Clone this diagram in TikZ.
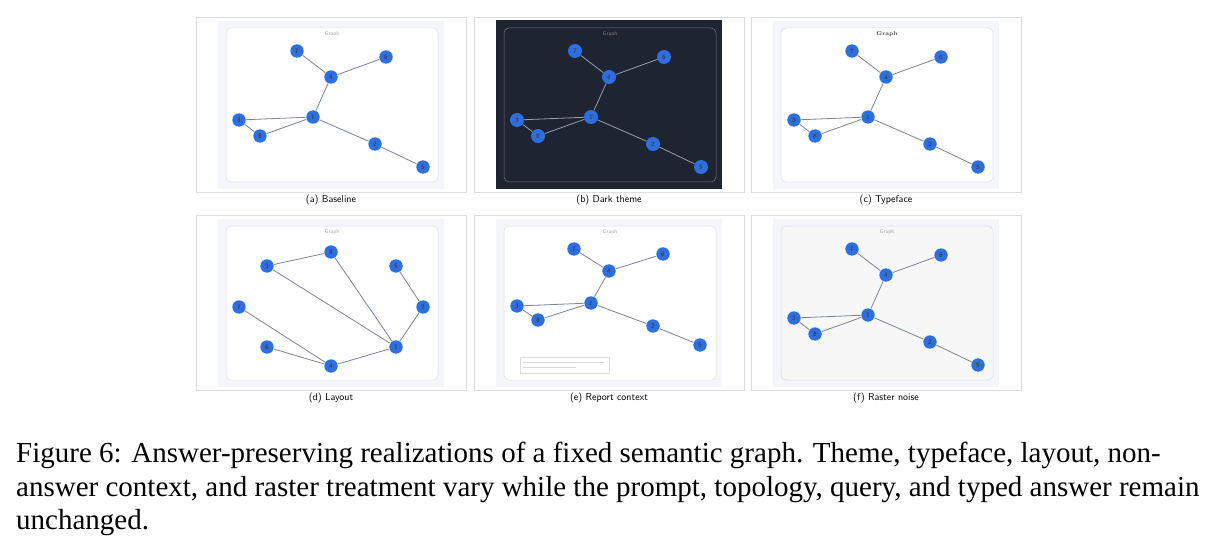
\documentclass[tikz,border=0pt]{standalone}
\usepackage{fontspec}
\newfontfamily\capfont{Liberation Serif}
\usetikzlibrary{positioning}
\definecolor{nodeblue}{HTML}{2C6FE2}
\definecolor{edgegray}{HTML}{7D8496}
\definecolor{framegray}{HTML}{DCDDE3}
\definecolor{panelbg}{HTML}{F5F6FA}
\definecolor{darkbg}{HTML}{1F2431}

% one tree layout, drawn at an offset with a name prefix
\newcommand{\treegraph}[4]{%
  \foreach \n/\x/\y in {7/297/51,6/386/57,4/331/77,3/239/120,1/313/117,8/260/136,2/375/144,5/423/167}
    \node[main node,#4] (#1\n) at (\x+#2,\y+#3) {\n};
  \foreach \a/\b in {7/4,4/6,4/1,1/3,3/8,8/1,1/2,2/5}
    \draw[edge] (#1\a) -- (#1\b);
}

\begin{document}
\begin{tikzpicture}[x=1pt,y=-1pt,
    main node/.style={circle,fill=nodeblue,draw=white,line width=0.4pt,minimum size=14pt,inner sep=0pt,
                      font=\sffamily\fontsize{6.5}{6.5}\selectfont\bfseries,text=black!75},
    edge/.style={draw=edgegray,line width=0.8pt},
    outer/.style={draw=framegray,line width=0.5pt},
    card/.style={draw=framegray,fill=white,rounded corners=5pt,line width=0.5pt},
    subcap/.style={font=\sffamily\fontsize{10}{10}\selectfont},
    title/.style={font=\sffamily\fontsize{5.5}{5.5}\selectfont,text=black!35}]
  \useasboundingbox (0,0) rectangle (1223,556);
  \fill[white] (0,0) rectangle (1223,556);
  % frames
  \foreach \dx in {0,278,555}
    \foreach \dy in {0,198} {
      \draw[outer] (196+\dx,17+\dy) rectangle (466+\dx,192+\dy);
    }
  % (a) baseline
  \fill[panelbg] (218,21) rectangle (444,189);
  \draw[card] (226,28) rectangle (438,182);
  \node[title] (ta) at (332,34) {Graph};
  \treegraph{a}{0}{0}{}
  \node[subcap] (ca) at (331,200) {(a) Baseline};
  % (b) dark theme
  \fill[darkbg] (496,20) rectangle (722,189);
  \draw[draw=black!55,rounded corners=5pt,line width=0.5pt] (504,28) rectangle (716,182);
  \node[title,text=black!50] (tb) at (610,34) {Graph};
  \begin{scope}[edge/.append style={draw=edgegray!80!white}]
    \treegraph{b}{278}{0}{draw=none}
  \end{scope}
  \node[subcap] (cb) at (609,200) {(b) Dark theme};
  % (c) typeface
  \fill[panelbg] (773,21) rectangle (999,189);
  \draw[card] (781,28) rectangle (993,182);
  \node[title,font=\rmfamily\fontsize{5.5}{5.5}\selectfont\bfseries,text=black!75] (tc) at (887,34) {Graph};
  \treegraph{c}{555}{0}{font=\rmfamily\fontsize{6.5}{6.5}\selectfont\bfseries}
  \node[subcap] (cc) at (886,200) {(c) Typeface};
  % (d) layout
  \fill[panelbg] (218,219) rectangle (444,387);
  \draw[card] (226,226) rectangle (438,380);
  \node[title] (td) at (332,232) {Graph};
  \foreach \n/\x/\y in {8/331/252,3/267/266,5/396/266,7/239/307,2/423/307,6/267/347,4/331/366,1/396/347}
    \node[main node] (d\n) at (\x,\y) {\n};
  \foreach \a/\b in {3/8,3/1,8/1,5/2,2/1,7/4,6/4,4/1}
    \draw[edge] (d\a) -- (d\b);
  \node[subcap] (cd) at (331,398) {(d) Layout};
  % (e) report context
  \fill[panelbg] (496,219) rectangle (722,387);
  \draw[card] (504,226) rectangle (716,380);
  \node[title] (te) at (610,232) {Graph};
  \foreach \n/\x/\y in {7/574/249,6/663/254,4/609/271,3/517/306,1/591/303,8/538/320,2/653/326,5/700/345}
    \node[main node] (e\n) at (\x,\y) {\n};
  \foreach \a/\b in {7/4,4/6,4/1,1/3,3/8,8/1,1/2,2/5}
    \draw[edge] (e\a) -- (e\b);
  \draw[draw=framegray,line width=0.4pt] (520,357) rectangle (609,373);
  \draw[black!15,line width=0.6pt] (523,362) -- (604,362) (523,367) -- (576,367);
  \node[subcap] (ce) at (609,398) {(e) Report context};
  % (f) raster noise
  \fill[panelbg] (773,219) rectangle (999,387);
  \draw[card,fill=black!3] (781,226) rectangle (993,380);
  \node[title] (tf) at (887,232) {Graph};
  \treegraph{f}{555}{198}{}
  \node[subcap] (cf) at (886,398) {(f) Raster noise};
  % figure caption
  \begin{scope}[every node/.style={anchor=base west,inner sep=0pt,font=\capfont\fontsize{29}{29}\selectfont}]
    \node[text width=1194pt,align=justify] (l1) at (16,462) {\parfillskip=0pt Figure 6: Answer-preserving realizations of a fixed semantic graph. Theme, typeface, layout, non-};
    \node[text width=1194pt,align=justify] (l2) at (16,496) {\parfillskip=0pt answer context, and raster treatment vary while the prompt, topology, query, and typed answer remain};
    \node (l3) at (16,529) {unchanged.};
  \end{scope}
\end{tikzpicture}
\end{document}
